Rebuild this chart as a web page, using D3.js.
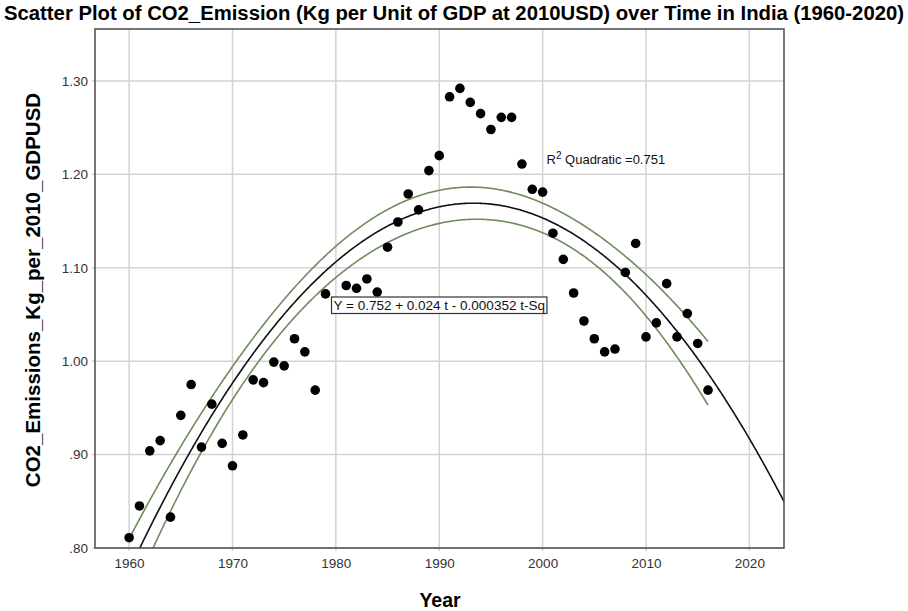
<!DOCTYPE html>
<html>
<head>
<meta charset="utf-8">
<script src="https://cdn.jsdelivr.net/npm/d3@7"></script>
<style>
  html, body { margin: 0; padding: 0; background: #fff; }
  svg { display: block; font-family: "Liberation Sans", Arial, sans-serif; }
</style>
</head>
<body>
<svg id="chart" width="908" height="611"></svg>
<script>
// India: CO2 emissions (kg per 2010 USD of GDP), one point per year
const years = [1960,1961,1962,1963,1964,1965,1966,1967,1968,1969,
               1970,1971,1972,1973,1974,1975,1976,1977,1978,1979,
               1981,1982,1983,1984,1985,1986,1987,1988,1989,
               1990,1991,1992,1993,1994,1995,1996,1997,1998,1999,
               2000,2001,2002,2003,2004,2005,2006,2007,2008,2009,
               2010,2011,2012,2013,2014,2015,2016];
const emissions = [0.811,0.845,0.904,0.915,0.833,0.942,0.975,0.908,0.954,0.912,
                   0.888,0.921,0.980,0.977,0.999,0.995,1.024,1.010,0.969,1.072,
                   1.081,1.078,1.088,1.074,1.122,1.149,1.179,1.162,1.204,
                   1.220,1.283,1.292,1.277,1.265,1.248,1.261,1.261,1.211,1.184,
                   1.181,1.137,1.109,1.073,1.043,1.024,1.010,1.013,1.095,1.126,
                   1.026,1.041,1.083,1.026,1.051,1.019,0.969];
const xTicks = [1960,1970,1980,1990,2000,2010,2020];
const yTicks = [0.80,0.90,1.00,1.10,1.20,1.30];
const yTickLabels = [".80",".90","1.00","1.10","1.20","1.30"];
const titleText = "Scatter Plot of CO2_Emission (Kg per Unit of GDP at 2010USD) over Time in India (1960-2020)";
const xLabel = "Year";
const yLabel = "CO2_Emissions_Kg_per_2010_GDPUSD";
const equationText = "Y = 0.752 + 0.024 t - 0.000352 t-Sq";
const rSquaredValue = "0.751";
const timeOrigin = 1959;      // t = year - 1959
const bandMultiplier = 1.41;  // band half-width, in standard errors of the fitted mean

const svg = d3.select("#chart");
const plot = { left: 95, right: 784, top: 29, bottom: 548 };

const x = d3.scaleLinear().domain([1956.7, 2023.35]).range([plot.left, plot.right]);
const y = d3.scaleLinear().domain([0.80, 1.3556]).range([plot.bottom, plot.top]);

// ---- quadratic least-squares fit: Y = b0 + b1 t + b2 t^2 ----
const n = years.length;
const rows = years.map(yr => { const t = yr - timeOrigin; return [1, t, t * t]; });
const XtX = [[0,0,0],[0,0,0],[0,0,0]], XtY = [0,0,0];
rows.forEach((r, i) => {
  for (let a = 0; a < 3; a++) {
    XtY[a] += r[a] * emissions[i];
    for (let b = 0; b < 3; b++) XtX[a][b] += r[a] * r[b];
  }
});
function inv3(m) {
  const [a,b,c] = m[0], [d,e,f] = m[1], [g,h,k] = m[2];
  const A = e*k - f*h, B = -(d*k - f*g), C = d*h - e*g;
  const det = a*A + b*B + c*C;
  return [
    [A/det, -(b*k - c*h)/det, (b*f - c*e)/det],
    [B/det, (a*k - c*g)/det, -(a*f - c*d)/det],
    [C/det, -(a*h - b*g)/det, (a*e - b*d)/det]
  ];
}
const M = inv3(XtX);
const coef = [0,1,2].map(a => d3.sum([0,1,2], b => M[a][b] * XtY[b]));
const predict = yr => { const t = yr - timeOrigin; return coef[0] + coef[1]*t + coef[2]*t*t; };
const sse = d3.sum(years, (yr, i) => (emissions[i] - predict(yr)) ** 2);
const s = Math.sqrt(sse / (n - 3));
const seFit = yr => {
  const t = yr - timeOrigin, v = [1, t, t*t];
  let q = 0;
  for (let a = 0; a < 3; a++) for (let b = 0; b < 3; b++) q += v[a] * M[a][b] * v[b];
  return s * Math.sqrt(q);
};

// ---- clip region ----
svg.append("defs").append("clipPath").attr("id", "plotClip")
  .append("rect").attr("x", plot.left).attr("y", plot.top)
  .attr("width", plot.right - plot.left).attr("height", plot.bottom - plot.top);

// ---- gridlines ----
const grid = svg.append("g").attr("stroke", "#d3d3d3").attr("stroke-width", 1.5);
grid.selectAll("line.v").data(xTicks).join("line").attr("class", "v")
  .attr("x1", d => x(d)).attr("x2", d => x(d))
  .attr("y1", plot.top).attr("y2", plot.bottom + 3);
grid.selectAll("line.h").data(yTicks).join("line").attr("class", "h")
  .attr("x1", plot.left - 3).attr("x2", plot.right)
  .attr("y1", d => y(d)).attr("y2", d => y(d));

// ---- axes (labels only; frame drawn separately) ----
const xAxis = svg.append("g").attr("transform", `translate(0,${plot.bottom})`)
  .call(d3.axisBottom(x).tickValues(xTicks).tickFormat(d3.format("d")).tickSize(0).tickPadding(10.5));
const yAxis = svg.append("g").attr("transform", `translate(${plot.left},0)`)
  .call(d3.axisLeft(y).tickValues(yTicks).tickFormat((d, i) => yTickLabels[i]).tickSize(0).tickPadding(7));
[xAxis, yAxis].forEach(g => {
  g.select(".domain").remove();
  g.selectAll("text").attr("font-family", "Liberation Sans, Arial, sans-serif")
    .attr("font-size", 13.5).attr("fill", "#333");
});

// ---- fit line and confidence band for the mean ----
const fitG = svg.append("g").attr("clip-path", "url(#plotClip)").attr("fill", "none");
const fullRange = d3.range(1956.7, 2023.4, 0.1);
const dataRange = d3.range(d3.min(years), d3.max(years) + 0.001, 0.1);
const line = d3.line().x(d => x(d[0])).y(d => y(d[1]));
const bandColor = "#6f8c5e";
fitG.append("path").datum(dataRange.map(yr => [yr, predict(yr) + bandMultiplier * seFit(yr)]))
  .attr("d", line).attr("stroke", bandColor).attr("stroke-width", 1.6);
fitG.append("path").datum(dataRange.map(yr => [yr, predict(yr) - bandMultiplier * seFit(yr)]))
  .attr("d", line).attr("stroke", bandColor).attr("stroke-width", 1.6);
fitG.append("path").datum(fullRange.map(yr => [yr, predict(yr)]))
  .attr("d", line).attr("stroke", "#111").attr("stroke-width", 1.6);

// ---- points ----
svg.append("g").attr("clip-path", "url(#plotClip)")
  .selectAll("circle").data(years).join("circle")
  .attr("cx", d => x(d)).attr("cy", (d, i) => y(emissions[i]))
  .attr("r", 4.8).attr("fill", "#000");

// ---- frame ----
svg.append("rect").attr("x", plot.left).attr("y", plot.top)
  .attr("width", plot.right - plot.left).attr("height", plot.bottom - plot.top)
  .attr("fill", "none").attr("stroke", "#555").attr("stroke-width", 1.6);

// ---- annotations ----
const eq = svg.append("g");
const eqText = eq.append("text").attr("x", 333.5).attr("y", 310)
  .attr("font-size", 13.5).attr("fill", "#111").text(equationText);
const bb = eqText.node().getBBox();
eq.insert("rect", "text").attr("x", bb.x - 2).attr("y", 297)
  .attr("width", bb.width + 4).attr("height", 16.5)
  .attr("fill", "#fff").attr("stroke", "#333").attr("stroke-width", 1.2);

const r2 = svg.append("text").attr("x", 546.5).attr("y", 163.5)
  .attr("font-size", 13).attr("fill", "#111");
r2.append("tspan").text("R");
r2.append("tspan").attr("font-size", 10).attr("dy", -5).text("2");
r2.append("tspan").attr("dy", 5).text(" Quadratic =" + rSquaredValue);

// ---- titles ----
svg.append("text").attr("x", 454).attr("y", 20).attr("text-anchor", "middle")
  .attr("font-size", 20).attr("font-weight", "bold").attr("fill", "#000")
  .attr("textLength", 900).attr("lengthAdjust", "spacingAndGlyphs").text(titleText);
svg.append("text").attr("x", 440).attr("y", 607).attr("text-anchor", "middle")
  .attr("font-size", 19.5).attr("font-weight", "bold").attr("fill", "#000").text(xLabel);
svg.append("text").attr("transform", "translate(40,290) rotate(-90)")
  .attr("text-anchor", "middle")
  .attr("font-size", 20.5).attr("font-weight", "bold").attr("fill", "#000").text(yLabel);
</script>
</body>
</html>
